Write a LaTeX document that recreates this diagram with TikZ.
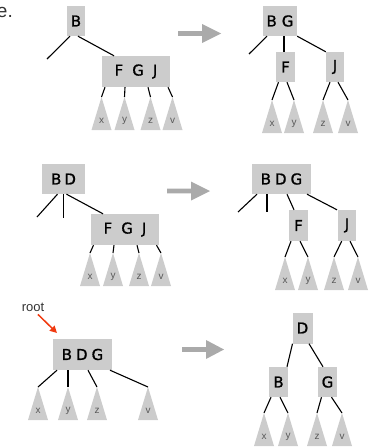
\documentclass[tikz,border=0pt]{standalone}
\usepackage{fontspec}
\setmainfont{DejaVu Sans}
\newfontfamily\txtfont{Liberation Sans}
\newfontfamily\keyfont[FakeBold=1]{DejaVu Sans}
\usetikzlibrary{arrows.meta}
\definecolor{boxgray}{HTML}{CCCCCC}
\definecolor{trigray}{HTML}{CCCCCC}
\definecolor{arrgray}{HTML}{AAAAAA}
\definecolor{rootred}{HTML}{F03A10}
\definecolor{txtgray}{HTML}{333333}
\newcommand\leaftri[4]{%
  \coordinate (#1) at (#2,#3);
  \fill[trigray] (#1) -- ++(-10,33) -- ++(20,0) -- cycle;
  \node[leaflabel] (#1lab) at (#2,#3+23.5) {#4};
}
\newcommand\bigarrow[3]{%
  \fill[arrgray] (#1,#3-2.3) -- (#1+24,#3-2.3) -- (#1+24,#3-9.5) -- (#2,#3)
     -- (#1+24,#3+9.5) -- (#1+24,#3+2.3) -- (#1,#3+2.3) -- cycle;
}
\begin{document}
\begin{tikzpicture}[x=1pt,y=-1pt,
  key/.style={fill=boxgray, inner sep=0pt, font=\keyfont\fontsize{15}{15}\selectfont, text=black},
  link/.style={line width=1.1pt, black},
  leaflabel/.style={font=\txtfont\fontsize{10}{10}\selectfont, text=black!65, inner sep=0pt}]
\useasboundingbox (0,0) rectangle (371,447);

% cut-off text
\node[anchor=base east, inner sep=0pt, text=txtgray, font=\txtfont\fontsize{19}{19}\selectfont] (cut) at (13,17) {e.};

% ---------- panel 1 ----------
\node[key, minimum width=18pt, minimum height=30pt] (b1) at (76,21) {B};
\node[key, minimum width=68pt, minimum height=31pt] (fgj1) at (136,71.5) {F\hspace{9pt}G\hspace{9pt}J};
\coordinate (d1) at (47,59);
\draw[link] ([xshift=-6pt]b1.south) -- (d1);
\draw[link] ([xshift=2pt]b1.south) -- ([xshift=-22pt]fgj1.north);
\leaftri{t1x}{101.5}{97}{x}
\leaftri{t1y}{124.5}{97}{y}
\leaftri{t1z}{150.5}{97}{z}
\leaftri{t1v}{172.5}{97}{v}
\draw[link] ([xshift=-31pt]fgj1.south) -- (t1x);
\draw[link] ([xshift=-11pt]fgj1.south) -- (t1y);
\draw[link] ([xshift=12pt]fgj1.south) -- (t1z);
\draw[link] ([xshift=32pt]fgj1.south) -- (t1v);

\bigarrow{178}{221}{33.5}

% ---------- panel 2 ----------
\node[key, minimum width=34pt, minimum height=30pt] (bg2) at (280,21) {B\hspace{5pt}G};
\node[key, minimum width=19pt, minimum height=30pt] (f2) at (285.5,67) {F};
\node[key, minimum width=18pt, minimum height=30pt] (j2) at (335,67) {J};
\coordinate (d2) at (249,54);
\draw[link] ([xshift=-13pt]bg2.south) -- (d2);
\draw[link] ([xshift=4pt]bg2.south) -- ([xshift=-1.5pt]f2.north);
\draw[link] (bg2.south east) -- (j2.north west);
\leaftri{t2x}{272}{100}{x}
\leaftri{t2y}{294}{100}{y}
\leaftri{t2z}{323}{100}{z}
\leaftri{t2v}{348}{100}{v}
\draw[link] ([xshift=-7pt]f2.south) -- (t2x);
\draw[link] ([xshift=1.5pt]f2.south) -- (t2y);
\draw[link] ([xshift=-5pt]j2.south) -- (t2z);
\draw[link] ([xshift=3pt]j2.south) -- (t2v);

% ---------- panel 3 ----------
\node[key, minimum width=43pt, minimum height=30pt] (bd3) at (63.5,179) {B\hspace{3pt}D};
\node[key, minimum width=68pt, minimum height=31pt] (fgj3) at (125,229.5) {F\hspace{9pt}G\hspace{9pt}J};
\coordinate (d3a) at (37,217);
\coordinate (d3b) at (63.3,218);
\draw[link] ([xshift=-6pt]bd3.south) -- (d3a);
\draw[link] ([xshift=-0.2pt]bd3.south) -- (d3b);
\draw[link] ([xshift=3pt]bd3.south) -- ([xshift=-22pt]fgj3.north);
\leaftri{t3x}{90}{253}{x}
\leaftri{t3y}{113}{253}{y}
\leaftri{t3z}{139}{253}{z}
\leaftri{t3v}{161}{253}{v}
\draw[link] ([xshift=-31.5pt]fgj3.south) -- (t3x);
\draw[link] ([xshift=-11pt]fgj3.south) -- (t3y);
\draw[link] ([xshift=12pt]fgj3.south) -- (t3z);
\draw[link] ([xshift=31.5pt]fgj3.south) -- (t3v);

\bigarrow{167}{210}{191}

% ---------- panel 4 ----------
\node[key, minimum width=59pt, minimum height=30pt] (bdg4) at (281.5,179) {B\hspace{4pt}D\hspace{4pt}G};
\node[key, minimum width=19pt, minimum height=31pt] (f4) at (298.5,225.5) {F};
\node[key, minimum width=18pt, minimum height=31pt] (j4) at (347,225.5) {J};
\coordinate (d4a) at (238,212);
\coordinate (d4b) at (267,212);
\draw[link] ([xshift=-24.5pt]bdg4.south) -- (d4a);
\draw[link] ([xshift=-14.5pt]bdg4.south) -- (d4b);
\draw[link] ([xshift=5.5pt]bdg4.south) -- ([xshift=-4.5pt]f4.north);
\draw[link] ([xshift=25.5pt]bdg4.south) -- ([xshift=-10pt]j4.north);
\leaftri{t4x}{285}{257}{x}
\leaftri{t4y}{308}{257}{y}
\leaftri{t4z}{334}{257}{z}
\leaftri{t4v}{358}{257}{v}
\draw[link] ([xshift=-7.5pt]f4.south) -- (t4x);
\draw[link] ([xshift=1.5pt]f4.south) -- (t4y);
\draw[link] ([xshift=-5.3pt]j4.south) -- (t4z);
\draw[link] ([xshift=3pt]j4.south) -- (t4v);

% ---------- panel 5 ----------
\node[inner sep=0pt, text=txtgray, font=\txtfont\fontsize{13}{13}\selectfont] (root) at (33,307) {root};
\coordinate (rootend) at (57,333);
\draw[rootred, line width=1.5pt, -{Triangle[length=7pt,width=7pt]}] ([xshift=5pt,yshift=-3pt]root.south) -- (rootend);
\node[key, minimum width=59pt, minimum height=31pt] (bdg5) at (82.5,354.5) {B\hspace{4pt}D\hspace{4pt}G};
\leaftri{t5x}{38}{387}{x}
\leaftri{t5y}{68}{387}{y}
\leaftri{t5z}{97}{387}{z}
\leaftri{t5v}{148}{387}{v}
\draw[link] ([xshift=-25.5pt]bdg5.south) -- (t5x);
\draw[link] ([xshift=-14.5pt]bdg5.south) -- (t5y);
\draw[link] ([xshift=5.5pt]bdg5.south) -- (t5z);
\draw[link] ([xshift=27.5pt]bdg5.south) -- (t5v);

\bigarrow{182}{224}{349.5}

% ---------- panel 6 ----------
\node[key, minimum width=20pt, minimum height=31pt] (d6) at (302.5,328) {D};
\node[key, minimum width=19pt, minimum height=30pt] (b6) at (278.5,382) {B};
\node[key, minimum width=19pt, minimum height=30pt] (g6) at (327.5,382) {G};
\draw[link] ([xshift=-10pt]d6.south) -- ([xshift=8.5pt]b6.north);
\draw[link] ([xshift=6.5pt]d6.south) -- ([xshift=-4.5pt]g6.north);
\leaftri{t6x}{264}{413}{x}
\leaftri{t6y}{288}{413}{y}
\leaftri{t6z}{317}{413}{z}
\leaftri{t6v}{342}{413}{v}
\draw[link] ([xshift=-7.5pt]b6.south) -- (t6x);
\draw[link] ([xshift=1.5pt]b6.south) -- (t6y);
\draw[link] ([xshift=-6pt]g6.south) -- (t6z);
\draw[link] ([xshift=4pt]g6.south) -- (t6v);
\end{tikzpicture}
\end{document}
